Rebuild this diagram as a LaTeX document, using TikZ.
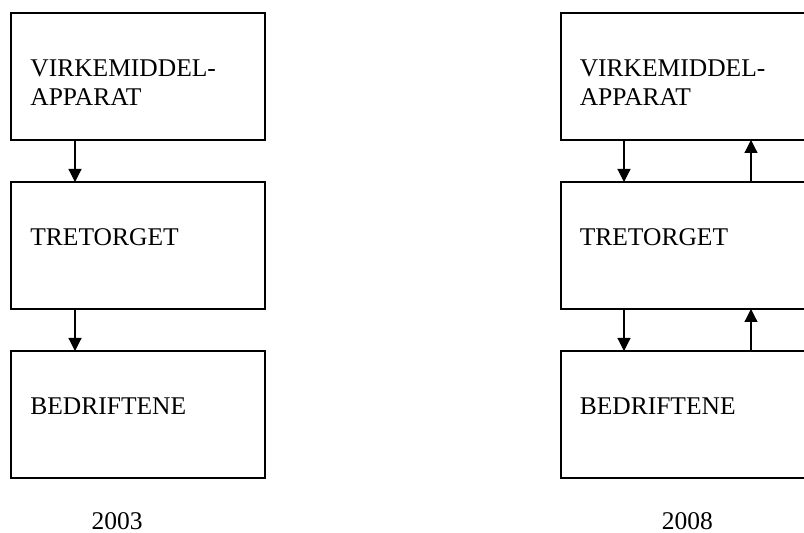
\documentclass[tikz,border=0pt]{standalone}
\usepackage{fontspec}
\setmainfont{Liberation Serif}
\usetikzlibrary{positioning, arrows.meta}

\begin{document}
\begin{tikzpicture}[node distance=21pt and 148pt, >={Triangle[length=6.5pt, width=6.5pt]},
    block/.style={draw, line width=0.7pt, minimum width=127pt, minimum height=63.5pt, inner sep=0pt, outer sep=0pt},
    boxtext/.style={inner sep=0pt, anchor=base west, align=left, font=\fontsize{12.75}{14.5}\selectfont},
    yeartext/.style={inner sep=0pt, anchor=base, font=\fontsize{12.75}{14.5}\selectfont},
    flow/.style={->, line width=0.6pt}]
    \useasboundingbox (0,0) rectangle (402pt,-266.5pt);
    \clip (0,0) rectangle (402pt,-266.5pt);

    % Boxes
    \node[block, anchor=north west] (virk03) at (5.5pt,-6.5pt) {};
    \node[block, below=of virk03] (tret03) {};
    \node[block, below=of tret03] (bedr03) {};
    \node[block, right=of virk03] (virk08) {};
    \node[block, below=of virk08] (tret08) {};
    \node[block, below=of tret08] (bedr08) {};

    % Texts (base of a two-line node is its last line)
    \node[boxtext] (virk03txt) at ([xshift=9.5pt, yshift=-46.5pt]virk03.north west) {VIRKEMIDDEL-\\APPARAT};
    \node[boxtext] (tret03txt) at ([xshift=9.5pt, yshift=-32pt]tret03.north west) {TRETORGET};
    \node[boxtext] (bedr03txt) at ([xshift=9.5pt, yshift=-32pt]bedr03.north west) {BEDRIFTENE};
    \node[boxtext] (virk08txt) at ([xshift=9.2pt, yshift=-46.5pt]virk08.north west) {VIRKEMIDDEL-\\APPARAT};
    \node[boxtext] (tret08txt) at ([xshift=9.2pt, yshift=-32pt]tret08.north west) {TRETORGET};
    \node[boxtext] (bedr08txt) at ([xshift=9.2pt, yshift=-32pt]bedr08.north west) {BEDRIFTENE};
    \node[yeartext] (year03) at ([xshift=53pt, yshift=-26pt]bedr03.south west) {2003};
    \node[yeartext] (year08) at ([xshift=63.2pt, yshift=-26pt]bedr08.south west) {2008};

    % Arrows
    \draw[flow] ([xshift=32pt]virk03.south west) -- ([xshift=32pt]tret03.north west);
    \draw[flow] ([xshift=32pt]tret03.south west) -- ([xshift=32pt]bedr03.north west);
    \draw[flow] ([xshift=31.5pt]virk08.south west) -- ([xshift=31.5pt]tret08.north west);
    \draw[flow] ([xshift=31.5pt]tret08.south west) -- ([xshift=31.5pt]bedr08.north west);
    \draw[flow] ([xshift=95pt]tret08.north west) -- ([xshift=95pt]virk08.south west);
    \draw[flow] ([xshift=95pt]bedr08.north west) -- ([xshift=95pt]tret08.south west);
\end{tikzpicture}
\end{document}
